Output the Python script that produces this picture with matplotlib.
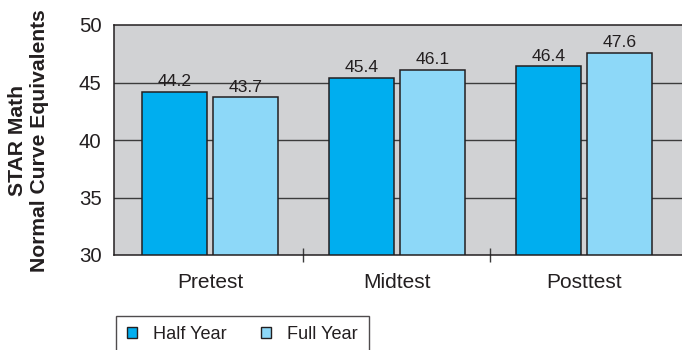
import numpy as np
import matplotlib.pyplot as plt
from matplotlib.patches import Patch

plt.rcParams['font.family'] = ['Liberation Sans', 'DejaVu Sans']

categories = ['Pretest', 'Midtest', 'Posttest']
half_year = [44.2, 45.4, 46.4]
full_year = [43.7, 46.1, 47.6]
series_names = ['Half Year', 'Full Year']
y_ticks = [30, 35, 40, 45, 50]

DARK = '#231F20'
HALF_COLOR = '#00AEEF'
FULL_COLOR = '#8DD8F8'
PANEL = '#D1D2D4'


def makeChart():
    fig = plt.figure(figsize=(6.82, 3.5), dpi=100)
    ax = fig.add_axes([114 / 682, 1 - 255 / 350, (682 - 114) / 682, 230 / 350])
    ax.set_facecolor(PANEL)

    x = np.arange(len(categories))
    width = 0.348
    offset = 0.191

    # horizontal guides sit behind the bars
    for v in y_ticks[1:-1]:
        ax.axhline(v, color='#3C3C3C', lw=1.0, zorder=1)

    b1 = ax.bar(x - offset, half_year, width, color=HALF_COLOR,
                edgecolor=DARK, linewidth=1.1, zorder=2)
    b2 = ax.bar(x + offset, full_year, width, color=FULL_COLOR,
                edgecolor=DARK, linewidth=1.1, zorder=2)

    for bars, vals in ((b1, half_year), (b2, full_year)):
        for rect, v in zip(bars, vals):
            ax.annotate('%.1f' % v, (rect.get_x() + rect.get_width() / 2, v),
                        xytext=(0, 2), textcoords='offset points',
                        ha='center', va='bottom', fontsize=12.6, color=DARK)

    ax.set_ylim(30, 50)
    ax.set_xlim(-0.513, 2.524)
    ax.set_yticks(y_ticks)
    ax.tick_params(axis='y', length=0, pad=9, labelsize=14.7, labelcolor=DARK)

    # separators between groups, category names in between
    ax.set_xticks([0.5, 1.5])
    ax.set_xticklabels(['', ''])
    ax.tick_params(axis='x', which='major', direction='inout', length=10,
                   width=1.0, color='#3C3C3C')
    ax.set_xticks(x, minor=True)
    ax.set_xticklabels(categories, minor=True)
    ax.tick_params(axis='x', which='minor', length=0, pad=13,
                   labelsize=15, labelcolor=DARK)

    for side in ('left', 'top', 'bottom'):
        ax.spines[side].set_color(DARK)
        ax.spines[side].set_linewidth(1.1)
    ax.spines['right'].set_visible(False)

    fig.text(28.5 / 682, 1 - 141 / 350, 'STAR Math\nNormal Curve Equivalents',
             rotation=90, ha='center', va='center', fontsize=15.2,
             fontweight='bold', color=DARK, linespacing=1.2)

    handles = [Patch(facecolor=HALF_COLOR, edgecolor=DARK, linewidth=1.0),
               Patch(facecolor=FULL_COLOR, edgecolor=DARK, linewidth=1.0)]
    leg = fig.legend(handles, series_names, loc='upper left',
                     bbox_to_anchor=(116 / 682, 1 - 315.5 / 350), ncol=2,
                     fontsize=13.1, frameon=True, fancybox=False,
                     edgecolor=DARK, handlelength=0.55, handleheight=0.55,
                     handletextpad=0.9, columnspacing=1.85,
                     borderaxespad=0, borderpad=0.6)
    leg.get_frame().set_linewidth(1.0)
    for t in leg.get_texts():
        t.set_color(DARK)

    fig.savefig('out.png', dpi=100)


if __name__ == "__main__":
    makeChart()
